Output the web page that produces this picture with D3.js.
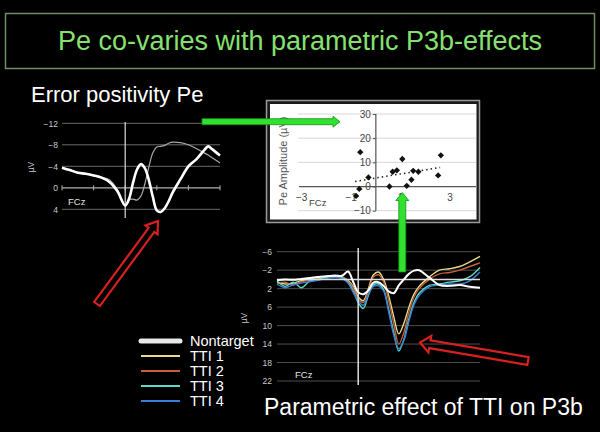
<!DOCTYPE html>
<html><head><meta charset="utf-8">
<script src="https://cdn.jsdelivr.net/npm/d3@7"></script>
<style>body{margin:0;background:#000}svg{display:block}text{font-family:"Liberation Sans",Arial,sans-serif}</style>
</head><body><svg id="c" width="600" height="432"></svg>
<script>
// ---- Data ----
const titleText = "Pe co-varies with parametric P3b-effects";
const peTitle = "Error positivity Pe";
const p3Title = "Parametric effect of TTI on P3b";

const peTimes   = [-400,-350,-300,-250,-200,-150,-100,-50,0,25,50,75,100,125,150,175,200,225,250,275,300,350,400,450,500,525,550,600];
const peError   = [-3.75,-3.3,-2.8,-2.6,-2.3,-1.9,-1.1,0.6,3.3,2.0,-1.0,-3.4,-4.4,-3.6,-1.4,1.7,4.2,4.5,3.8,2.5,0.9,-1.6,-4.0,-5.3,-7.0,-7.7,-7.2,-6.0];
const peCorrect = [-3.75,-3.3,-2.9,-2.6,-2.3,-2.0,-1.5,0.3,3.2,2.2,2.1,2.3,1.5,-0.8,-3.9,-6.5,-7.6,-7.7,-7.9,-8.3,-8.5,-8.4,-8.0,-7.3,-6.5,-6.1,-5.6,-4.6];
const peYTicks  = [-12,-8,-4,0,4];
const peXTicks  = [-400,-200,0,200,400,600];

const scatterX = [-0.80,-0.67,-0.63,-0.30,0.55,0.68,0.85,1.07,1.25,1.44,1.51,1.72,2.52,2.63];
const scatterY = [-3.9,-1.0,14.2,3.75,0.0,6.1,6.7,11.4,0.3,2.8,6.5,6.1,4.6,12.9];
const trendX = [-0.84, 2.6];
const trendY = [2.1, 7.9];
const scYTicks = [30,20,10,0,-10];
const scXTicks = [-3,-1,1,3];

const p3Times   = [-400,-360,-320,-280,-240,-200,-160,-120,-80,-50,-25,0,25,50,75,100,125,150,175,200,225,250,275,300,350,400,450,500,550,600];
const nontarget = [0.2,0.0,0.1,-0.1,-0.3,-0.5,-0.7,-0.8,-0.8,-1.7,0.5,2.8,3.2,2.4,0.7,0.6,1.4,2.6,3.0,1.3,0.0,-1.2,-1.9,-2.0,-0.4,1.2,1.4,1.2,1.6,1.8];
const tti1 = [0.6,1.0,0.8,0.3,0.0,-0.2,-0.6,-0.8,-0.5,0.2,1.5,3.8,4.6,2.0,-1.0,-1.6,0.0,3.5,8.0,11.8,9.5,6.0,3.2,1.5,-0.5,-2.0,-2.3,-2.8,-3.8,-5.0];
const tti2 = [0.9,0.6,1.2,0.5,0.2,-0.3,-0.5,-0.9,-0.6,0.4,1.8,4.2,5.0,2.5,-0.5,-1.0,0.5,4.5,9.5,14.0,11.5,7.0,3.8,2.0,0.0,-1.2,-1.5,-2.0,-2.8,-3.6];
const tti3 = [0.3,1.5,0.6,1.8,0.4,0.0,-0.4,-0.6,-0.4,0.6,2.5,5.0,6.3,3.5,1.2,1.0,2.2,6.5,11.5,15.5,13.0,8.5,5.0,3.0,1.3,1.0,0.6,0.3,-0.6,-2.6];
const tti4 = [1.0,1.8,1.2,0.8,0.5,0.2,-0.2,-0.4,-0.2,0.8,2.8,4.6,5.6,3.2,1.5,1.4,2.5,7.0,12.0,15.0,13.2,9.0,5.5,3.5,1.6,1.2,1.0,1.0,0.3,-1.6];
const p3YTicks = [-6,-2,2,6,10,14,18,22];
const legendLabels = ["Nontarget","TTI 1","TTI 2","TTI 3","TTI 4"];
const legendColors = ["#e8e8e8","#e6dc8c","#c4603a","#5ad8c4","#3b7fd4"];

// ---- Drawing ----
const svg = d3.select("#c");
const fmt = d => d < 0 ? "\u2212" + (-d) : String(d);

svg.append("rect").attr("width",600).attr("height",432).attr("fill","#000");

// Title box
svg.append("rect").attr("x",5.5).attr("y",13.5).attr("width",589).attr("height",55)
  .attr("fill","none").attr("stroke","#6f8c62").attr("stroke-width",1.5);
svg.append("text").attr("x",300).attr("y",50).attr("text-anchor","middle")
  .attr("font-size",27).attr("fill","#86e070").text(titleText);

// ---------- Left Pe chart ----------
const xL = d3.scaleLinear().domain([-400,600]).range([62,220]);
const yL = d3.scaleLinear().domain([-12,4]).range([123.3,209.3]);
svg.append("text").attr("x",31).attr("y",102).attr("font-size",22).attr("fill","#fff").text(peTitle);
const gL = svg.append("g");
gL.selectAll("line.grid").data(peYTicks.filter(d=>d!==0)).join("line")
  .attr("x1",xL(-400)).attr("x2",xL(600)).attr("y1",d=>yL(d)).attr("y2",d=>yL(d))
  .attr("stroke","#6a6a6a").attr("stroke-width",1);
gL.append("line").attr("x1",xL(-400)).attr("x2",xL(600)).attr("y1",yL(0)).attr("y2",yL(0))
  .attr("stroke","#b0b0b0").attr("stroke-width",1.2);
gL.selectAll("line.tk").data(peXTicks).join("line")
  .attr("x1",d=>xL(d)).attr("x2",d=>xL(d)).attr("y1",yL(0)-2.5).attr("y2",yL(0)+2.5)
  .attr("stroke","#b0b0b0");
const axL = gL.append("g").attr("transform",`translate(${xL(-400)},0)`)
  .call(d3.axisLeft(yL).tickValues(peYTicks).tickSize(0).tickPadding(4).tickFormat(fmt));
axL.select(".domain").remove();
axL.selectAll("text").attr("fill","#c8c8c8").attr("font-size",8.5);
gL.append("line").attr("x1",xL(0)).attr("x2",xL(0)).attr("y1",122).attr("y2",218)
  .attr("stroke","#dcdcdc").attr("stroke-width",1.2);
gL.append("text").attr("transform","translate(34,167) rotate(-90)").attr("text-anchor","middle")
  .attr("font-size",8.5).attr("fill","#c8c8c8").text("\u00b5V");
gL.append("text").attr("x",68).attr("y",205).attr("font-size",9.5).attr("fill","#e0e0e0").text("FCz");
const lineL = d3.line().x((d,i)=>xL(peTimes[i])).y(d=>yL(d)).curve(d3.curveCatmullRom);
gL.append("path").attr("d",lineL(peCorrect)).attr("fill","none").attr("stroke","#a8a8a8").attr("stroke-width",1.2);
gL.append("path").attr("d",lineL(peError)).attr("fill","none").attr("stroke","#fff").attr("stroke-width",2.6);

// ---------- Scatter panel ----------
const xS = d3.scaleLinear().domain([-3,3]).range([301.7,450]);
const yS = d3.scaleLinear().domain([-10,30]).range([210.7,114]);
svg.append("rect").attr("x",266.5).attr("y",100.5).attr("width",213).attr("height",122)
  .attr("fill","#1a1a1a").attr("stroke","#9a9a9a").attr("stroke-width",1.5);
svg.append("rect").attr("x",270).attr("y",104).attr("width",206.5).attr("height",115.5).attr("fill","#fff");
const gS = svg.append("g");
gS.selectAll("line.grid").data(scYTicks.filter(d=>d!==0)).join("line")
  .attr("x1",298).attr("x2",xS(4.05)).attr("y1",d=>yS(d)).attr("y2",d=>yS(d))
  .attr("stroke","#d8d8d8").attr("stroke-width",1);
gS.append("line").attr("x1",299).attr("x2",xS(4.05)).attr("y1",yS(0)).attr("y2",yS(0))
  .attr("stroke","#555").attr("stroke-width",1.2);
gS.append("line").attr("x1",xS(0)).attr("x2",xS(0)).attr("y1",yS(30)).attr("y2",yS(-10))
  .attr("stroke","#555").attr("stroke-width",1.2);
const axS = gS.append("g").attr("transform",`translate(${xS(0)},0)`)
  .call(d3.axisLeft(yS).tickValues(scYTicks).tickSize(3).tickPadding(2).tickFormat(fmt));
axS.select(".domain").remove();
axS.selectAll("line").attr("stroke","#555");
axS.selectAll("text").attr("fill","#444").attr("font-size",10);
gS.selectAll("text.xt").data(scXTicks).join("text")
  .attr("x",d=>xS(d)).attr("y",yS(0)+14).attr("text-anchor","middle")
  .attr("font-size",10).attr("fill","#444").text(fmt);
gS.append("text").attr("transform","translate(287,161) rotate(-90)").attr("text-anchor","middle")
  .attr("font-size",11).attr("fill","#555").text("Pe Amplitude (\u00b5V)");
gS.append("text").attr("x",309).attr("y",206).attr("font-size",9.5).attr("fill","#444").text("FCz");
gS.append("line").attr("x1",xS(trendX[0])).attr("x2",xS(trendX[1])).attr("y1",yS(trendY[0])).attr("y2",yS(trendY[1]))
  .attr("stroke","#222").attr("stroke-width",1.5).attr("stroke-dasharray","1.5,3");
gS.selectAll("path.pt").data(scatterX).join("path")
  .attr("d",d3.symbol(d3.symbolSquare,20))
  .attr("transform",(d,i)=>`translate(${xS(d)},${yS(scatterY[i])}) rotate(45)`)
  .attr("fill","#111");

// ---------- Bottom P3b chart ----------
const xB = d3.scaleLinear().domain([-400,600]).range([277,480]);
const yB = d3.scaleLinear().domain([-6,22]).range([251.7,381]);
const gB = svg.append("g");
gB.selectAll("line.grid").data(p3YTicks).join("line")
  .attr("x1",xB(-400)).attr("x2",xB(600)).attr("y1",d=>yB(d)).attr("y2",d=>yB(d))
  .attr("stroke","#4e4e4e").attr("stroke-width",1);
const axB = gB.append("g").attr("transform",`translate(${xB(-400)-1},0)`)
  .call(d3.axisLeft(yB).tickValues(p3YTicks).tickSize(0).tickPadding(4).tickFormat(fmt));
axB.select(".domain").remove();
axB.selectAll("text").attr("fill","#c8c8c8").attr("font-size",8.5);
gB.append("text").attr("transform","translate(247,318) rotate(-90)").attr("text-anchor","middle")
  .attr("font-size",8.5).attr("fill","#c8c8c8").text("\u00b5V");
gB.append("text").attr("x",295).attr("y",378).attr("font-size",9.5).attr("fill","#e0e0e0").text("FCz");
const lineB = d3.line().x((d,i)=>xB(p3Times[i])).y(d=>yB(d)).curve(d3.curveCatmullRom);
[tti1,tti2,tti3,tti4].forEach((s,k)=>{
  gB.append("path").attr("d",lineB(s)).attr("fill","none").attr("stroke",legendColors[k+1]).attr("stroke-width",1.4);
});
gB.append("line").attr("x1",xB(-400)).attr("x2",xB(600)).attr("y1",yB(0)).attr("y2",yB(0))
  .attr("stroke","#dedede").attr("stroke-width",1.5);
gB.append("line").attr("x1",xB(0)).attr("x2",xB(0)).attr("y1",248).attr("y2",385)
  .attr("stroke","#dedede").attr("stroke-width",1.5);
gB.append("path").attr("d",lineB(nontarget)).attr("fill","none").attr("stroke","#fff").attr("stroke-width",2);

// Legend
const gLeg = svg.append("g");
legendLabels.forEach((lab,i)=>{
  const y = 341 + i*15;
  gLeg.append("line").attr("x1",141).attr("x2",180).attr("y1",y).attr("y2",y)
    .attr("stroke",legendColors[i]).attr("stroke-width",i===0?5:2).attr("stroke-linecap",i===0?"round":"butt");
  gLeg.append("text").attr("x",190).attr("y",y+5).attr("font-size",14.5).attr("fill","#fff").text(lab);
});

svg.append("text").attr("x",264).attr("y",415).attr("font-size",23).attr("fill","#fff").text(p3Title);

// ---------- Arrows ----------
function arrowPath(x1,y1,x2,y2,w,h,L){
  const len = Math.hypot(x2-x1,y2-y1);
  const pts = [[0,-w],[len-L,-w],[len-L,-h],[len,0],[len-L,h],[len-L,w],[0,w]];
  return {d:"M"+pts.map(p=>p.join(",")).join("L")+"Z", t:`translate(${x1},${y1}) rotate(${Math.atan2(y2-y1,x2-x1)*180/Math.PI})`};
}
function drawArrow(a,fill,stroke,sw){
  const p = arrowPath(...a);
  svg.append("path").attr("d",p.d).attr("transform",p.t).attr("fill",fill).attr("stroke",stroke).attr("stroke-width",sw).attr("stroke-linejoin","miter");
}
drawArrow([202,121.7,340,121.7,3,5.5,7],"#2fe22f","#169016",0.8);
drawArrow([402.3,272,402.3,192.5,3.5,6.5,8],"#2fe22f","#169016",0.8);
drawArrow([97,304,158,221,3.5,7.5,11],"none","#d82020",2.2);
drawArrow([528,361,420,342.5,4,8.5,10],"none","#d82020",2.2);
</script></body></html>
